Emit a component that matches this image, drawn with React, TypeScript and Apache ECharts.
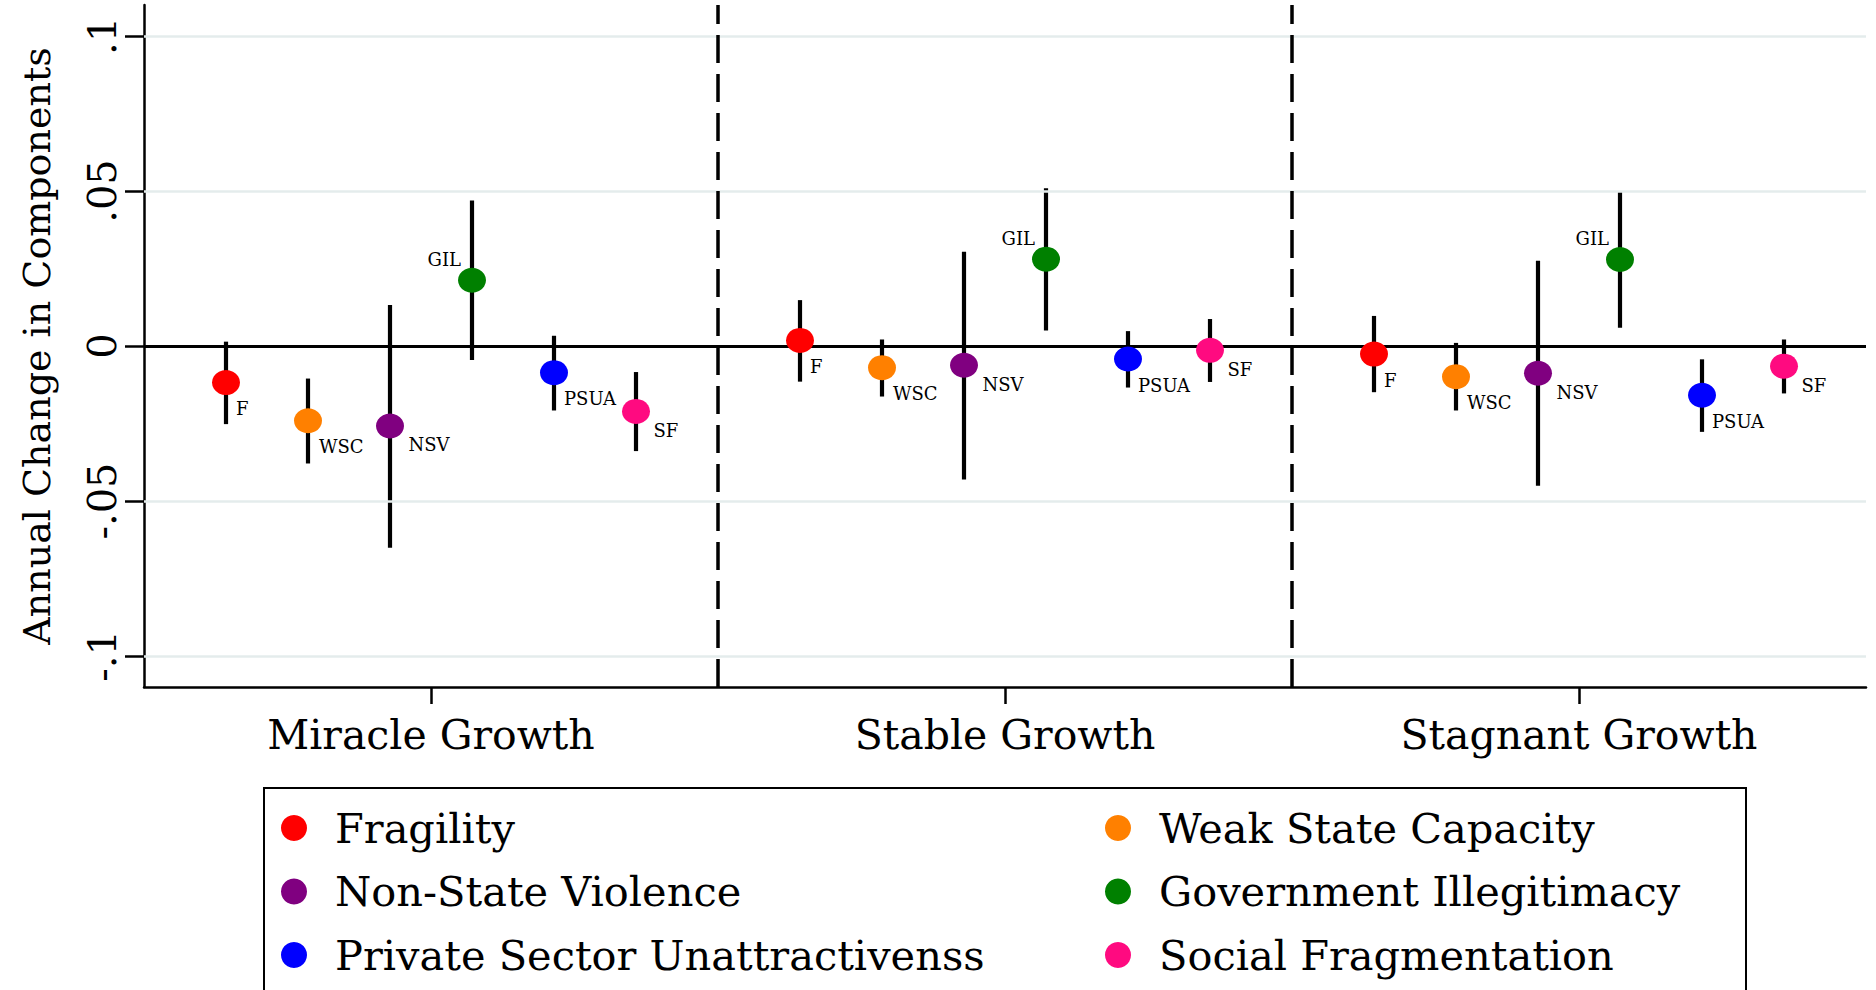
import React, { useEffect, useRef } from "react";
import * as echarts from "echarts";

const groups = ["Miracle Growth", "Stable Growth", "Stagnant Growth"];
const components = [
  "Fragility",
  "Weak State Capacity",
  "Non-State Violence",
  "Government Illegitimacy",
  "Private Sector Unattractivenss",
  "Social Fragmentation",
];
const abbrevs = ["F", "WSC", "NSV", "GIL", "PSUA", "SF"];
const colors = ["#ff0000", "#ff8000", "#800080", "#008000", "#0000ff", "#ff0a80"];

// point estimates per component, for [Miracle, Stable, Stagnant]
const estimates = [
  [-0.0118, 0.0018, -0.0026],
  [-0.0241, -0.007, -0.0099],
  [-0.0258, -0.0062, -0.0088],
  [0.0212, 0.028, 0.0279],
  [-0.0086, -0.0042, -0.0159],
  [-0.0211, -0.0014, -0.0065],
];
const lowerCI = [
  [-0.0252, -0.0115, -0.0149],
  [-0.0379, -0.0163, -0.0208],
  [-0.0651, -0.0431, -0.0451],
  [-0.0045, 0.005, 0.0059],
  [-0.0208, -0.0134, -0.0277],
  [-0.0339, -0.0116, -0.0153],
];
const upperCI = [
  [0.0014, 0.0148, 0.0097],
  [-0.0105, 0.0021, 0.001],
  [0.0132, 0.0304, 0.0275],
  [0.0469, 0.0509, 0.0498],
  [0.0033, 0.0048, -0.0043],
  [-0.0084, 0.0087, 0.0021],
];
const yTicks = [-0.1, -0.05, 0, 0.05, 0.1];
const yGridValues = [-0.1, -0.05, 0.05, 0.1];
const separators = [0.5, 1.5];

const FONT = "DejaVu Serif";
const SYM = [28, 25];
// label offsets from dot centre: [dx, dy, align]
const labelOffsets: [number, number, string][] = [
  [10, 26, "left"],
  [11, 26, "left"],
  [18.5, 19, "left"],
  [-11, -21, "right"],
  [10, 26, "left"],
  [17.5, 19, "left"],
];

const xPos = (g: number, i: number) => g + (i - 2.5) / 7;

const fmtY = (v: number) => {
  if (Math.abs(v) < 1e-9) return "0";
  const s = String(Math.round(v * 100) / 100);
  return s.replace("0.", ".");
};

export default function App() {
  const ref = useRef<HTMLDivElement>(null);
  useEffect(() => {
    if (!ref.current) return;
    const chart = echarts.init(ref.current, undefined, { renderer: "svg" });

    const ciData: number[][] = [];
    components.forEach((_, i) => {
      groups.forEach((_, g) => {
        ciData.push([xPos(g, i), lowerCI[i][g], upperCI[i][g]]);
      });
    });

    const scatterSeries = components.map((name, i) => ({
      name,
      type: "scatter",
      z: 5,
      symbol: "circle",
      symbolSize: SYM,
      itemStyle: { color: colors[i], opacity: 1 },
      data: groups.map((_, g) => [xPos(g, i), estimates[i][g]]),
      label: {
        show: true,
        formatter: abbrevs[i],
        position: [SYM[0] / 2 + labelOffsets[i][0], SYM[1] / 2 + labelOffsets[i][1]],
        align: labelOffsets[i][2],
        verticalAlign: "middle",
        fontFamily: FONT,
        fontSize: 18,
        color: "#000",
      },
      emphasis: { disabled: true },
    }));

    const legendText = {
      fontFamily: FONT,
      fontSize: 41.5,
      lineHeight: 41,
      color: "#000",
      padding: [0, 0, 0, 23],
    };

    const option: any = {
      animation: false,
      backgroundColor: "#ffffff",
      grid: { left: 144, right: 10, top: 5, bottom: 303 },
      xAxis: {
        type: "value",
        min: -0.5,
        max: 2.5,
        splitLine: { show: false },
        axisLine: { show: true, onZero: false, lineStyle: { color: "#000", width: 2.5 } },
        axisTick: {
          show: true,
          customValues: [0, 1, 2],
          length: 17,
          lineStyle: { color: "#000", width: 2.5 },
        },
        axisLabel: {
          customValues: [0, 1, 2],
          formatter: (v: number) => groups[Math.round(v)] ?? "",
          fontFamily: FONT,
          fontSize: 41,
          color: "#000",
          margin: 27,
        },
      },
      yAxis: {
        type: "value",
        min: -0.11,
        max: 0.11,
        splitLine: { show: false },
        axisLine: { show: true, onZero: false, lineStyle: { color: "#000", width: 2.5 } },
        axisTick: {
          show: true,
          customValues: yTicks,
          length: 19,
          lineStyle: { color: "#000", width: 2.5 },
        },
        axisLabel: {
          customValues: yTicks,
          formatter: fmtY,
          rotate: 90,
          fontFamily: FONT,
          fontSize: 40,
          color: "#000",
          margin: 22,
        },
        name: "Annual Change in Components",
        nameLocation: "middle",
        nameRotate: 90,
        nameGap: 88,
        nameTextStyle: { fontFamily: FONT, fontSize: 38, color: "#000" },
      },
      legend: [
        {
          data: [components[0], components[2], components[4]],
          orient: "vertical",
          left: 276,
          top: 802,
          itemGap: 21.5,
          itemWidth: 26,
          itemHeight: 26,
          icon: "circle",
          selectedMode: false,
          textStyle: legendText,
        },
        {
          data: [components[1], components[3], components[5]],
          orient: "vertical",
          left: 1100,
          top: 802,
          itemGap: 21.5,
          itemWidth: 26,
          itemHeight: 26,
          icon: "circle",
          selectedMode: false,
          textStyle: legendText,
        },
      ],
      graphic: [
        {
          type: "rect",
          z: 0,
          silent: true,
          shape: { x: 264, y: 788, width: 1482, height: 260 },
          style: { fill: "transparent", stroke: "#000", lineWidth: 2 },
        },
      ],
      series: [
        {
          name: "grid-lines",
          type: "line",
          data: [],
          z: 1,
          silent: true,
          markLine: {
            silent: true,
            symbol: ["none", "none"],
            label: { show: false },
            animation: false,
            data: [
              ...yGridValues.map((v) => ({
                yAxis: v,
                lineStyle: { color: "#e4ecec", width: 2.5, type: "solid" },
              })),
              {
                yAxis: 0,
                lineStyle: { color: "#000", width: 3, type: "solid" },
              },
              ...separators.map((v) => ({
                xAxis: v,
                lineStyle: { color: "#000", width: 3.5, type: [28, 11] },
              })),
            ],
          },
        },
        {
          name: "CI",
          type: "custom",
          z: 3,
          silent: true,
          data: ciData,
          renderItem: (params: any, api: any) => {
            const x = api.value(0);
            const p1 = api.coord([x, api.value(1)]);
            const p2 = api.coord([x, api.value(2)]);
            return {
              type: "line",
              shape: { x1: p1[0], y1: p1[1], x2: p2[0], y2: p2[1] },
              style: { stroke: "#000", lineWidth: 4.2, lineCap: "butt" },
            };
          },
        },
        ...scatterSeries,
      ],
    };
    chart.setOption(option);
    return () => chart.dispose();
  }, []);

  return (
    <div
      ref={ref}
      style={{ position: "fixed", left: 0, top: 0, width: 1876, height: 990, background: "#fff" }}
    />
  );
}
